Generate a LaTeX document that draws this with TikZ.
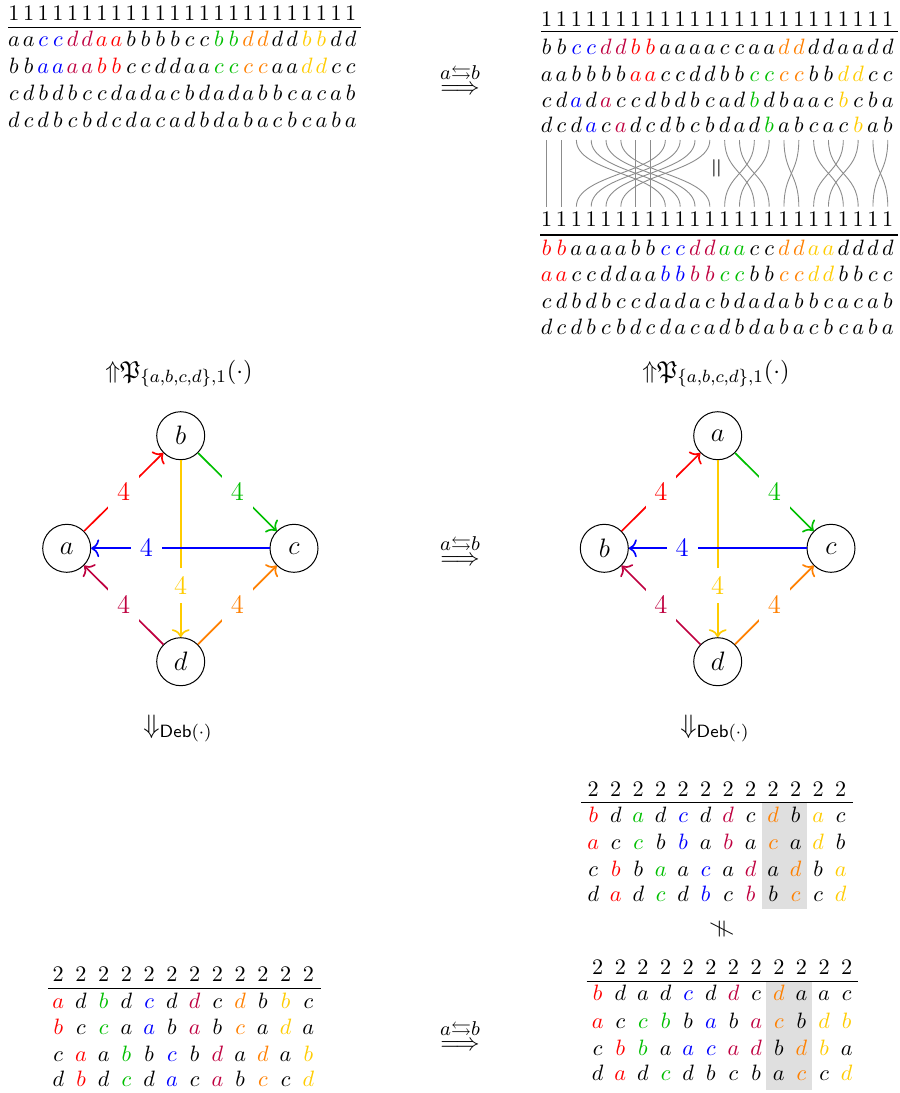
\documentclass[tikz,border=0pt]{standalone}
\usepackage{amsmath,amssymb}
\usetikzlibrary{arrows.meta}
\definecolor{cK}{rgb}{0,0,0}
\definecolor{cR}{rgb}{1,0,0}
\definecolor{cB}{rgb}{0,0,1}
\definecolor{cG}{rgb}{0,0.75,0}
\definecolor{cP}{rgb}{0.75,0,0.25}
\definecolor{cO}{rgb}{1,0.5,0}
\definecolor{cY}{rgb}{1,0.8,0}
% #1 name, #2 x0, #3 dx, #4 baseline y, #5 list letter/colour
\newcommand\myrow[5]{\foreach \ltr/\clr [count=\i] in {#5}{\node[cell,text=c\clr] (#1-\i) at ({#2+#3*(\i-1)},#4) {$\ltr$};}}
% #1 name, #2 x0, #3 dx, #4 n, #5 baseline y, #6 digit
\newcommand\myhead[6]{\foreach \i in {1,...,#4}{\node[cell] (#1-\i) at ({#2+#3*(\i-1)},#5) {$#6$};}}
\newcommand\swapimpl{$\overset{\text{\fontsize{9}{9}\selectfont$a\mathord{\leftrightarrows}b$}}{\Longrightarrow}$}
\begin{document}
\begin{tikzpicture}[x=0.45pt,y=-0.45pt,
  cell/.style={anchor=base,inner sep=0pt,font=\fontsize{10}{12}\selectfont},
  rulel/.style={line width=0.65pt},
  strand/.style={draw=black!45,line width=0.4pt},
  vert/.style={draw,circle,line width=0.45pt,minimum size=21.6pt,inner sep=0pt,font=\fontsize{12}{14}\selectfont},
  edge/.style={line width=0.75pt,-{To[length=3.6pt,width=8pt]}},
  lab/.style={fill=white,inner sep=4pt,font=\fontsize{12.5}{15}\selectfont},
  impl/.style={anchor=base,inner sep=0pt,font=\fontsize{11}{13}\selectfont},
  uplab/.style={anchor=base,inner sep=0pt,font=\fontsize{11}{13}\selectfont},
  dnlab/.style={anchor=base,inner sep=0pt,font=\fontsize{12}{14}\selectfont},
  shade/.style={fill=gray!25,draw=none}]
\fill[white] (0,0) rectangle (899,1093);
\useasboundingbox (0,0) rectangle (899,1093);

% ---------- top-left table ----------
\myhead{tlh}{14}{14.64}{24}{20}{1}
\draw[rulel] (8,27.7) -- (361,27.7);
\myrow{tla}{14}{14.64}{46.7}{a/K,a/K,c/B,c/B,d/P,d/P,a/R,a/R,b/K,b/K,b/K,b/K,c/K,c/K,b/G,b/G,d/O,d/O,d/K,d/K,b/Y,b/Y,d/K,d/K}
\myrow{tlb}{14}{14.64}{73.5}{b/K,b/K,a/B,a/B,a/P,a/P,b/R,b/R,c/K,c/K,d/K,d/K,a/K,a/K,c/G,c/G,c/O,c/O,a/K,a/K,d/Y,d/Y,c/K,c/K}
\myrow{tlc}{14}{14.64}{100.5}{c/K,d/K,b/K,d/K,b/K,c/K,c/K,d/K,a/K,d/K,a/K,c/K,b/K,d/K,a/K,d/K,a/K,b/K,b/K,c/K,a/K,c/K,a/K,b/K}
\myrow{tld}{14}{14.64}{127.5}{d/K,c/K,d/K,b/K,c/K,b/K,d/K,c/K,d/K,a/K,c/K,a/K,d/K,b/K,d/K,a/K,b/K,a/K,c/K,b/K,c/K,a/K,b/K,a/K}

% ---------- top-right upper table ----------
\myhead{tuh}{546.7}{14.83}{24}{26}{1}
\draw[rulel] (541,31.7) -- (897.5,31.7);
\myrow{tua}{546.7}{14.83}{54.3}{b/K,b/K,c/B,c/B,d/P,d/P,b/R,b/R,a/K,a/K,a/K,a/K,c/K,c/K,a/K,a/K,d/O,d/O,d/K,d/K,a/K,a/K,d/K,d/K}
\myrow{tub}{546.7}{14.83}{81}{a/K,a/K,b/K,b/K,b/K,b/K,a/R,a/R,c/K,c/K,d/K,d/K,b/K,b/K,c/G,c/G,c/O,c/O,b/K,b/K,d/Y,d/Y,c/K,c/K}
\myrow{tuc}{546.7}{14.83}{107.7}{c/K,d/K,a/B,d/K,a/P,c/K,c/K,d/K,b/K,d/K,b/K,c/K,a/K,d/K,b/G,d/K,b/K,a/K,a/K,c/K,b/Y,c/K,b/K,a/K}
\myrow{tud}{546.7}{14.83}{132.7}{d/K,c/K,d/K,a/B,c/K,a/P,d/K,c/K,d/K,b/K,c/K,b/K,d/K,a/K,d/K,b/G,a/K,b/K,c/K,a/K,c/K,b/Y,a/K,b/K}

% ---------- strands ----------
\foreach \i in {1,...,24}{
  \coordinate (st-\i) at ({546.7+14.83*(\i-1)},140);
  \coordinate (sb-\i) at ({546.7+14.83*(\i-1)},206.7);
}
\foreach \t in {1,2,7,8}{\draw[strand] (st-\t) -- (sb-\t);}
\foreach \t/\b in {3/9,4/10,5/11,6/12,9/3,10/4,11/5,12/6,13/15,14/16,15/13,16/14,17/18,18/17,19/21,20/22,21/19,22/20,23/24,24/23}{
  \draw[strand] (st-\t) .. controls +(0,33.35) and +(0,-33.35) .. (sb-\b);
}
\node[rotate=90,inner sep=0pt,font=\fontsize{12}{14}\selectfont] (eqs) at (718.3,168.3) {$=$};

% ---------- top-right lower table ----------
\myhead{tlwh}{546.7}{14.83}{24}{226.7}{1}
\draw[rulel] (540,235) -- (897.5,235);
\myrow{twa}{546.7}{14.83}{255}{b/R,b/R,a/K,a/K,a/K,a/K,b/K,b/K,c/B,c/B,d/P,d/P,a/G,a/G,c/K,c/K,d/O,d/O,a/Y,a/Y,d/K,d/K,d/K,d/K}
\myrow{twb}{546.7}{14.83}{281.5}{a/R,a/R,c/K,c/K,d/K,d/K,a/K,a/K,b/B,b/B,b/P,b/P,c/G,c/G,b/K,b/K,c/O,c/O,d/Y,d/Y,b/K,b/K,c/K,c/K}
\myrow{twc}{546.7}{14.83}{308}{c/K,d/K,b/K,d/K,b/K,c/K,c/K,d/K,a/K,d/K,a/K,c/K,b/K,d/K,a/K,d/K,a/K,b/K,b/K,c/K,a/K,c/K,a/K,b/K}
\myrow{twd}{546.7}{14.83}{334}{d/K,c/K,d/K,b/K,c/K,b/K,d/K,c/K,d/K,a/K,c/K,a/K,d/K,b/K,d/K,a/K,b/K,a/K,c/K,b/K,c/K,a/K,b/K,a/K}

% ---------- swap arrows ----------
\node[impl] (im1) at (460,94.4) {\swapimpl};
\node[impl] (im2) at (460,565.4) {\swapimpl};
\node[impl] (im3) at (460,1050.9) {\swapimpl};

% ---------- vertical labels ----------
\node[uplab] (up1) at (179,378) {$\mathord{\Uparrow}\mathfrak{P}_{\{a,b,c,d\},1}(\cdot)$};
\node[uplab] (up2) at (716,378) {$\mathord{\Uparrow}\mathfrak{P}_{\{a,b,c,d\},1}(\cdot)$};
\node[dnlab] (dn1) at (178,733.6) {$\Downarrow_{\mathsf{Deb}(\cdot)}$};
\node[dnlab] (dn2) at (715,733.6) {$\Downarrow_{\mathsf{Deb}(\cdot)}$};

% ---------- left graph ----------
\node[vert] (la) at (66.7,548.3) {$a$};
\node[vert] (lb) at (180.7,435.7) {$b$};
\node[vert] (lc) at (294,548.3) {$c$};
\node[vert] (ld) at (180.7,661.7) {$d$};
\draw[edge,cY] (lb) -- node[lab,pos=0.71,text=cY]{$4$} (ld);
\draw[edge,cB] (lc) -- node[lab,pos=0.69,text=cB]{$4$} (la);
\draw[edge,cR] (la) -- node[lab,text=cR]{$4$} (lb);
\draw[edge,cG] (lb) -- node[lab,text=cG]{$4$} (lc);
\draw[edge,cP] (ld) -- node[lab,text=cP]{$4$} (la);
\draw[edge,cO] (ld) -- node[lab,text=cO]{$4$} (lc);

% ---------- right graph ----------
\node[vert] (ra) at (717.7,435.7) {$a$};
\node[vert] (rb) at (604.3,548.3) {$b$};
\node[vert] (rc) at (831,548.3) {$c$};
\node[vert] (rd) at (717.7,661.7) {$d$};
\draw[edge,cY] (ra) -- node[lab,pos=0.71,text=cY]{$4$} (rd);
\draw[edge,cB] (rc) -- node[lab,pos=0.70,text=cB]{$4$} (rb);
\draw[edge,cR] (rb) -- node[lab,text=cR]{$4$} (ra);
\draw[edge,cG] (ra) -- node[lab,text=cG]{$4$} (rc);
\draw[edge,cP] (rd) -- node[lab,text=cP]{$4$} (rb);
\draw[edge,cO] (rd) -- node[lab,text=cO]{$4$} (rc);

% ---------- bottom-right upper table ----------
\fill[shade] (762.3,803.3) rectangle (807.3,909.3);
\myhead{buh}{593.3}{22.49}{12}{796.7}{2}
\draw[rulel] (581,802.3) -- (853.3,802.3);
\myrow{bua}{593.3}{22.49}{822.7}{b/R,d/K,a/G,d/K,c/B,d/K,d/P,c/K,d/O,b/K,a/Y,c/K}
\myrow{bub}{593.3}{22.49}{849.3}{a/R,c/K,c/G,b/K,b/B,a/K,b/P,a/K,c/O,a/K,d/Y,b/K}
\myrow{buc}{593.3}{22.49}{876}{c/K,b/R,b/K,a/G,a/K,c/B,a/K,d/P,a/K,d/O,b/K,a/Y}
\myrow{bud}{593.3}{22.49}{901.7}{d/K,a/R,d/K,c/G,d/K,b/B,c/K,b/P,b/K,c/O,c/K,d/Y}

\node[rotate=90,inner sep=0pt,font=\fontsize{10.5}{12}\selectfont] (neq) at (721.7,929.3) {$\neq$};

% ---------- bottom-right lower table ----------
\fill[shade] (766,981.7) rectangle (812.3,1090);
\myhead{blh}{597.7}{22.64}{12}{974}{2}
\draw[rulel] (586.7,981.7) -- (858.3,981.7);
\myrow{bla}{597.7}{22.64}{1000.7}{b/R,d/K,a/K,d/K,c/B,d/K,d/P,c/K,d/O,a/K,a/K,c/K}
\myrow{blb}{597.7}{22.64}{1028.3}{a/R,c/K,c/G,b/G,b/K,a/B,b/K,a/P,c/O,b/K,d/Y,b/Y}
\myrow{blc}{597.7}{22.64}{1055}{c/K,b/R,b/G,a/K,a/B,c/B,a/P,d/P,b/K,d/O,b/Y,a/K}
\myrow{bld}{597.7}{22.64}{1080.7}{d/K,a/R,d/K,c/G,d/K,b/K,c/K,b/K,a/K,c/O,c/K,d/Y}

% ---------- bottom-left table ----------
\myhead{bkh}{58.3}{22.73}{12}{981.7}{2}
\draw[rulel] (48.3,988.3) -- (321,988.3);
\myrow{bka}{58.3}{22.73}{1008.3}{a/R,d/K,b/G,d/K,c/B,d/K,d/P,c/K,d/O,b/K,b/Y,c/K}
\myrow{bkb}{58.3}{22.73}{1034.3}{b/R,c/K,c/G,a/K,a/B,b/K,a/P,b/K,c/O,a/K,d/Y,a/K}
\myrow{bkc}{58.3}{22.73}{1061}{c/K,a/R,a/K,b/G,b/K,c/B,b/K,d/P,a/K,d/O,a/K,b/Y}
\myrow{bkd}{58.3}{22.73}{1086.7}{d/K,b/R,d/K,c/G,d/K,a/B,c/K,a/P,b/K,c/O,c/K,d/Y}
\end{tikzpicture}
\end{document}
